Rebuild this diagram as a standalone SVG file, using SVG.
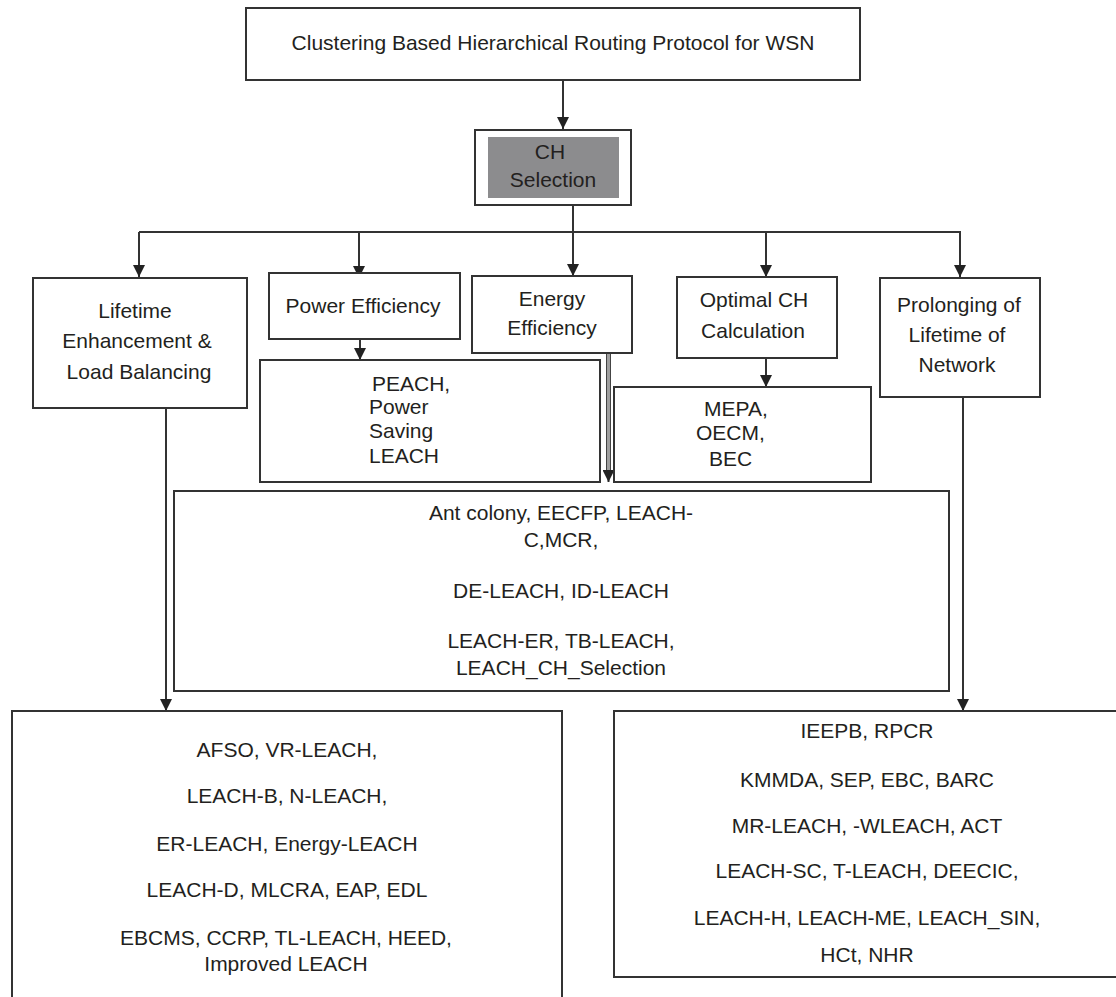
<svg xmlns="http://www.w3.org/2000/svg" width="1116" height="997" viewBox="0 0 1116 997">
  <style>
    .box { fill: #ffffff; stroke: #333333; stroke-width: 2; }
    .t { font-family: "Liberation Sans", Arial, sans-serif; font-size: 21px; fill: #231f20; }
    .c { text-anchor: middle; }
    .wire { fill: none; stroke: #333333; stroke-width: 2; }
  </style>
  <defs>
    <marker id="arrow" markerUnits="userSpaceOnUse" markerWidth="12" markerHeight="12" refX="6" refY="12" orient="auto-start-reverse" viewBox="0 0 12 12">
      <path d="M0,0 L12,0 L6,12 Z" fill="#222222" transform="rotate(-90 6 6)"/>
    </marker>
    <marker id="down" markerUnits="userSpaceOnUse" markerWidth="12" markerHeight="12" refX="6" refY="12" orient="0" viewBox="0 0 12 12">
      <path d="M0,0 L12,0 L6,12 Z" fill="#222222"/>
    </marker>
  </defs>
  <rect width="1116" height="997" fill="#ffffff"/>

  <!-- connectors -->
  <g id="connectors">
    <line class="wire" x1="563" y1="80" x2="563" y2="129" marker-end="url(#down)"/>
    <line class="wire" x1="573" y1="205" x2="573" y2="232"/>
    <line class="wire" x1="139" y1="232" x2="961" y2="232"/>
    <line class="wire" x1="139" y1="232" x2="139" y2="277" marker-end="url(#down)"/>
    <line class="wire" x1="359" y1="232" x2="359" y2="278" marker-end="url(#down)"/>
    <line class="wire" x1="573" y1="232" x2="573" y2="276" marker-end="url(#down)"/>
    <line class="wire" x1="766" y1="232" x2="766" y2="277" marker-end="url(#down)"/>
    <line class="wire" x1="960" y1="232" x2="960" y2="277" marker-end="url(#down)"/>
    <line class="wire" x1="360" y1="339" x2="360" y2="360" marker-end="url(#down)"/>
    <line class="wire" x1="766" y1="358" x2="766" y2="387" marker-end="url(#down)"/>
    <!-- double rail from Energy Efficiency -->
    <rect x="606.5" y="353" width="4" height="120" fill="#a0a0a0" stroke="#444444" stroke-width="1"/>
    <line class="wire" x1="608.5" y1="470" x2="608.5" y2="482" stroke="none" marker-end="url(#down)"/>
    <line class="wire" x1="166" y1="408" x2="166" y2="711" marker-end="url(#down)"/>
    <line class="wire" x1="963" y1="397" x2="963" y2="711" marker-end="url(#down)"/>
  </g>

  <g id="root">
    <rect class="box" x="246" y="8" width="614" height="72"/>
    <text class="t c" x="553" y="50">Clustering Based Hierarchical Routing Protocol for WSN</text>
  </g>

  <g id="ch-selection">
    <rect class="box" x="475" y="130" width="156" height="75"/>
    <rect x="488" y="137" width="131" height="61" fill="#8c8c8e"/>
    <text class="t c" x="550" y="159">CH</text>
    <text class="t c" x="553" y="187">Selection</text>
  </g>

  <g id="lifetime">
    <rect class="box" x="33" y="278" width="214" height="130"/>
    <text class="t c" x="135" y="318">Lifetime</text>
    <text class="t c" x="137" y="348">Enhancement &amp;</text>
    <text class="t c" x="139" y="379">Load Balancing</text>
  </g>

  <g id="power">
    <rect class="box" x="269" y="273" width="191" height="66"/>
    <text class="t c" x="363" y="313">Power Efficiency</text>
  </g>

  <g id="energy">
    <rect class="box" x="472" y="276" width="160" height="77"/>
    <text class="t c" x="552" y="306">Energy</text>
    <text class="t c" x="552" y="335">Efficiency</text>
  </g>

  <g id="optimal">
    <rect class="box" x="677" y="277" width="160" height="81"/>
    <text class="t c" x="754" y="307">Optimal CH</text>
    <text class="t c" x="753" y="338">Calculation</text>
  </g>

  <g id="prolonging">
    <rect class="box" x="880" y="278" width="160" height="119"/>
    <text class="t c" x="959" y="312">Prolonging of</text>
    <text class="t c" x="957" y="342">Lifetime of</text>
    <text class="t c" x="957" y="372">Network</text>
  </g>

  <g id="peach">
    <rect class="box" x="260" y="360" width="340" height="122"/>
    <text class="t" x="372" y="391">PEACH,</text>
    <text class="t" x="369" y="414">Power</text>
    <text class="t" x="369" y="438">Saving</text>
    <text class="t" x="369" y="463">LEACH</text>
  </g>

  <g id="mepa">
    <rect class="box" x="614" y="387" width="257" height="95"/>
    <text class="t" x="704" y="416">MEPA,</text>
    <text class="t" x="696" y="440">OECM,</text>
    <text class="t" x="709" y="466">BEC</text>
  </g>

  <g id="ant-colony">
    <rect class="box" x="174" y="491" width="775" height="200"/>
    <text class="t c" x="561" y="520">Ant colony, EECFP, LEACH-</text>
    <text class="t c" x="561" y="547">C,MCR,</text>
    <text class="t c" x="561" y="598">DE-LEACH, ID-LEACH</text>
    <text class="t c" x="561" y="648">LEACH-ER, TB-LEACH,</text>
    <text class="t c" x="561" y="675">LEACH_CH_Selection</text>
  </g>

  <g id="lifetime-protocols">
    <rect class="box" x="12" y="711" width="550" height="300"/>
    <text class="t c" x="287" y="757">AFSO, VR-LEACH,</text>
    <text class="t c" x="287" y="803">LEACH-B, N-LEACH,</text>
    <text class="t c" x="287" y="851">ER-LEACH, Energy-LEACH</text>
    <text class="t c" x="287" y="897">LEACH-D, MLCRA, EAP, EDL</text>
    <text class="t c" x="286" y="945">EBCMS, CCRP, TL-LEACH, HEED,</text>
    <text class="t c" x="286" y="971">Improved LEACH</text>
  </g>

  <g id="prolonging-protocols">
    <rect class="box" x="614" y="711" width="510" height="266"/>
    <text class="t c" x="867" y="738">IEEPB, RPCR</text>
    <text class="t c" x="867" y="787">KMMDA, SEP, EBC, BARC</text>
    <text class="t c" x="867" y="833">MR-LEACH, -WLEACH, ACT</text>
    <text class="t c" x="867" y="878">LEACH-SC, T-LEACH, DEECIC,</text>
    <text class="t c" x="867" y="925">LEACH-H, LEACH-ME, LEACH_SIN,</text>
    <text class="t c" x="867" y="962">HCt, NHR</text>
  </g>
</svg>
